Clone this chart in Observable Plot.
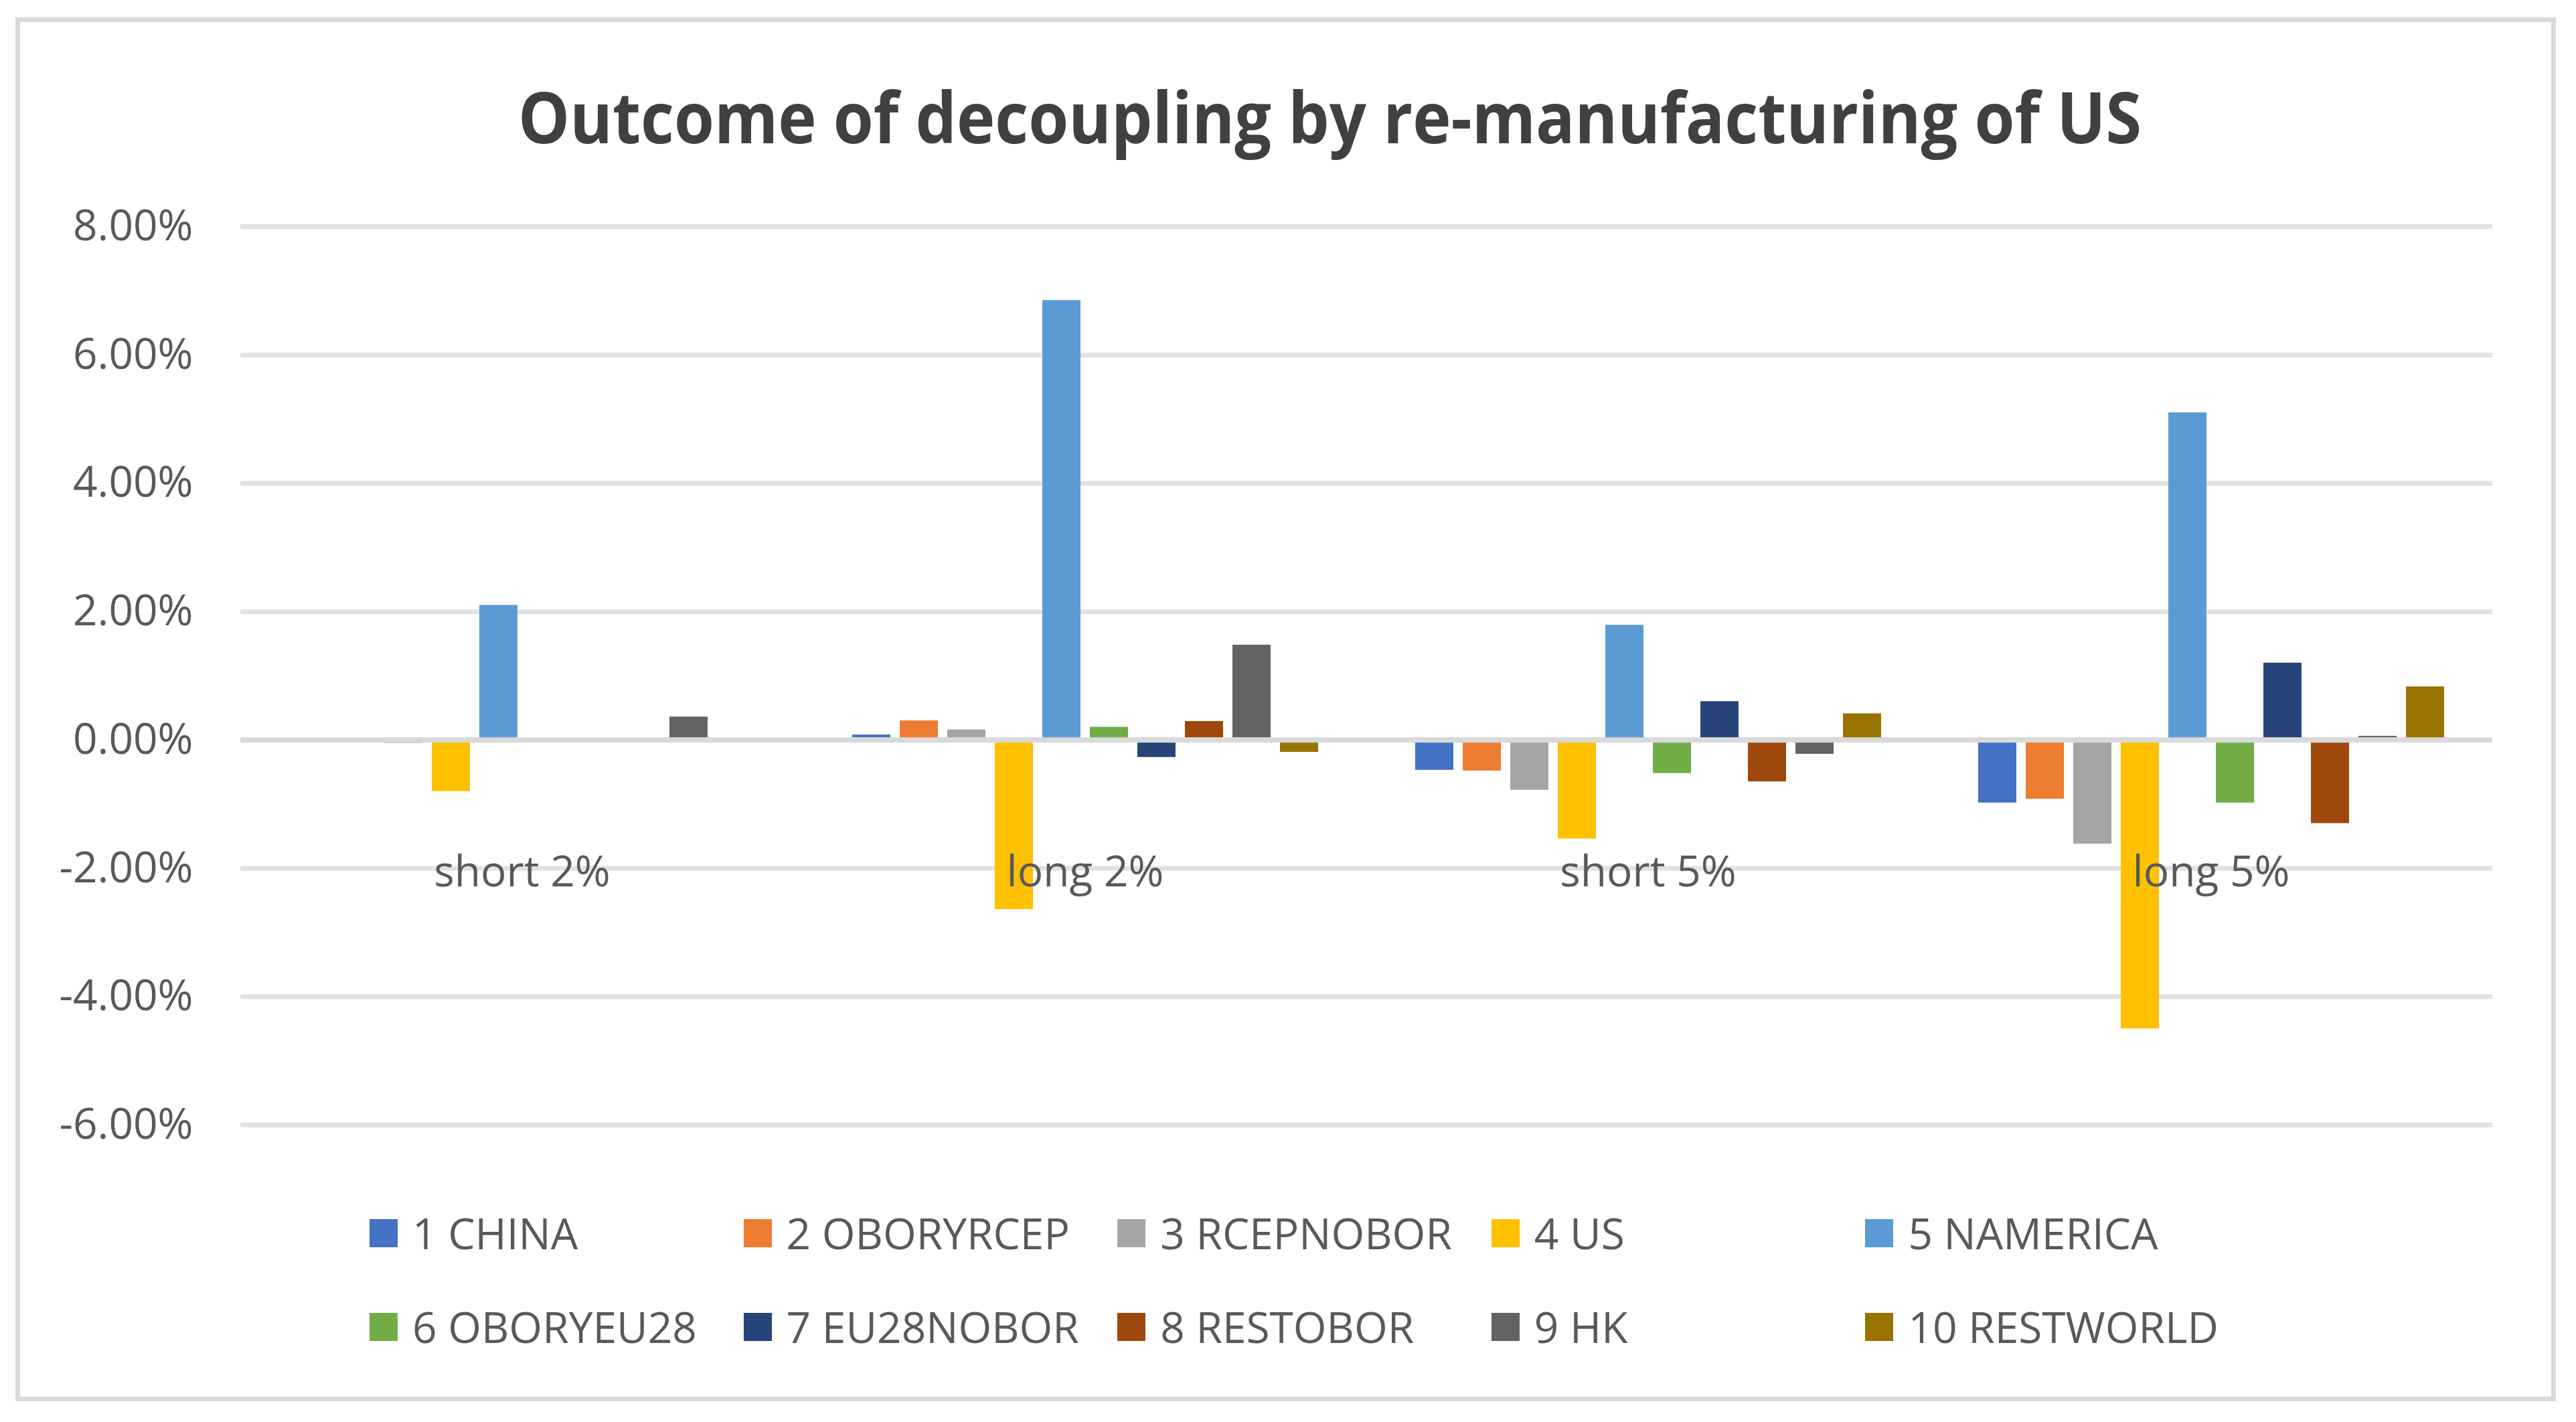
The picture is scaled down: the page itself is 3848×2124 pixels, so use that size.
<!DOCTYPE html>
<html>
<head>
<meta charset="utf-8">
<script src="https://cdn.jsdelivr.net/npm/d3@7"></script>
<script src="https://cdn.jsdelivr.net/npm/@observablehq/plot@0.6"></script>
<style>
  html, body { margin: 0; padding: 0; background: #ffffff; }
  #page { position: relative; width: 3848px; height: 2124px; overflow: hidden; background: #ffffff; font-family: 'Open Sans', sans-serif; }
  #titleSvg { position: absolute; left: 0; top: 0; }
  #plotHolder { position: absolute; left: 0; top: 0; }
  #legend { position: absolute; left: 552px; top: 1821px; display: grid; grid-template-columns: repeat(5, 558.6px); grid-auto-rows: 140px; }
  .item { display: flex; align-items: center; height: 42px; white-space: nowrap; }
  .sw { width: 42px; height: 42px; margin-right: 22px; flex: none; }
  .lab { font-size: 64px; line-height: 42px; color: #595959; font-family: 'Open Sans', sans-serif; }
  #border { position: absolute; left: 23px; top: 26px; width: 3795px; height: 2067px; box-sizing: border-box; border: 7px solid #D9D9D9; pointer-events: none; }
</style>
</head>
<body>
<div id="page">
  <svg id="titleSvg" width="3848" height="300"></svg>
  <div id="plotHolder"></div>
  <div id="legend"></div>
  <div id="border"></div>
</div>
<script>
// ---- data ----
const titleText = "Outcome of decoupling by re-manufacturing of US";
const scenarios = ["short 2%", "long 2%", "short 5%", "long 5%"];
const regions = ["1 CHINA", "2 OBORYRCEP", "3 RCEPNOBOR", "4 US", "5 NAMERICA",
                 "6 OBORYEU28", "7 EU28NOBOR", "8 RESTOBOR", "9 HK", "10 RESTWORLD"];
// values per region, in scenario order (fractions)
const china      = [0,       0.0008, -0.0047, -0.0098];
const oboryrcep  = [0,       0.0030, -0.0048, -0.0092];
const rcepnobor  = [-0.0005, 0.0016, -0.0078, -0.0162];
const us         = [-0.0080, -0.0264, -0.0154, -0.0450];
const namerica   = [0.0210,  0.0685, 0.0179,  0.0510];
const oboryeu28  = [0,       0.0020, -0.0052, -0.0098];
const eu28nobor  = [0,      -0.0027, 0.0060,  0.0120];
const restobor   = [0,       0.0029, -0.0065, -0.0130];
const hk         = [0.0036,  0.0148, -0.0022, 0.0006];
const restworld  = [0,      -0.0019, 0.0041,  0.0083];
const yTicks = [-0.06, -0.04, -0.02, 0, 0.02, 0.04, 0.06, 0.08];
const colors = ["#4472C4", "#ED7D31", "#A5A5A5", "#FFC000", "#5B9BD5",
                "#70AD47", "#264478", "#9E480E", "#636363", "#997300"];
const categoryLabelLevel = -0.0207;

const series = [china, oboryrcep, rcepnobor, us, namerica, oboryeu28, eu28nobor, restobor, hk, restworld];
const data = scenarios.flatMap((s, i) => regions.map((r, j) => ({scenario: s, region: r, value: series[j][i]})));

// ---- title ----
const ts = d3.select("#titleSvg");
ts.append("text")
  .attr("x", 774).attr("y", 214)
  .attr("font-family", "'Open Sans', sans-serif")
  .attr("font-weight", 700)
  .attr("font-size", 105)
  .attr("fill", "#404040")
  .attr("textLength", 2425)
  .attr("lengthAdjust", "spacingAndGlyphs")
  .text(titleText);

// ---- chart ----
const pct = d => (d * 100).toFixed(2) + "%";
const chart = Plot.plot({
  width: 3848,
  height: 1720,
  marginTop: 338,
  marginBottom: 40,
  marginLeft: 359,
  marginRight: 125,
  style: {fontFamily: "'Open Sans', sans-serif", fontSize: "64px", color: "#595959", background: "transparent", overflow: "visible"},
  fx: {domain: scenarios, padding: 0, axis: null},
  x: {domain: regions, paddingInner: 0.2, paddingOuter: 0.95, axis: null},
  y: {domain: [-0.06, 0.08], axis: null},
  color: {domain: regions, range: colors},
  marks: [
    Plot.gridY(yTicks, {stroke: "#E2E2E2", strokeOpacity: 1, strokeWidth: 7}),
    Plot.barY(data, {fx: "scenario", x: "region", y: "value", fill: "region"}),
    Plot.ruleY([0], {stroke: "#D9D9D9", strokeWidth: 8}),
    Plot.axisY(yTicks, {tickSize: 0, tickPadding: 71, tickFormat: pct, fill: "#595959", fontSize: 64, label: null}),
    Plot.text(scenarios, {fx: d => d, y: () => categoryLabelLevel, text: d => d, fill: "#595959", fontSize: 64, lineAnchor: "middle"})
  ]
});
document.getElementById("plotHolder").appendChild(chart);

// ---- legend ----
const lg = d3.select("#legend");
regions.forEach((r, i) => {
  const it = lg.append("div").attr("class", "item");
  it.append("div").attr("class", "sw").style("background", colors[i]);
  it.append("span").attr("class", "lab").text(r);
});
</script>
</body>
</html>
